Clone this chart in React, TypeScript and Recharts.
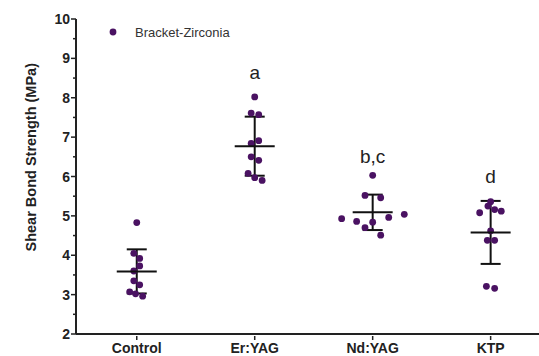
import React from "react";
import {
  ScatterChart,
  Scatter,
  XAxis,
  YAxis,
  ErrorBar,
} from "recharts";

const groups = ["Control", "Er:YAG", "Nd:YAG", "KTP"];
const controlValues = [4.83, 4.05, 3.92, 3.73, 3.6, 3.35, 3.25, 3.07, 3.02, 2.96];
const erYagValues = [8.02, 7.61, 7.57, 6.91, 6.84, 6.5, 6.41, 6.08, 5.97, 5.9];
const ndYagValues = [6.03, 5.52, 5.46, 5.04, 4.96, 4.93, 4.86, 4.84, 4.7, 4.51];
const ktpValues = [5.36, 5.25, 5.16, 5.12, 5.08, 4.62, 4.38, 4.38, 3.21, 3.16];
// horizontal scatter of the dots, in category units
const controlJitter = [0, -0.025, 0.025, 0.025, -0.025, -0.025, 0.025, -0.06, -0.01, 0.05];
const erYagJitter = [0, -0.03, 0.034, 0.034, -0.03, -0.03, 0.034, -0.056, 0, 0.063];
const ndYagJitter = [0, -0.065, 0.068, 0.268, 0.136, -0.263, -0.136, 0, -0.065, 0.068];
const ktpJitter = [0, -0.023, 0.034, 0.09, -0.093, 0, -0.028, 0.034, -0.036, 0.034];
const means = [3.59, 6.77, 5.09, 4.58];
const sds = [0.56, 0.75, 0.45, 0.8];
const letters = ["", "a", "b,c", "d"];
const letterY = [0, 8.63, 6.5, 6.0];
const yTicks = [2, 2.5, 3, 3.5, 4, 4.5, 5, 5.5, 6, 6.5, 7, 7.5, 8, 8.5, 9, 9.5, 10];

const allValues = [controlValues, erYagValues, ndYagValues, ktpValues];
const allJitter = [controlJitter, erYagJitter, ndYagJitter, ktpJitter];

const points = allValues.flatMap((vals, g) =>
  vals.map((v, i) => ({ x: g + allJitter[g][i], y: v }))
);
const summary = means.map((m, g) => ({ x: g, y: m, sd: sds[g] }));
const annotations = letters
  .map((l, g) => ({ x: g, y: letterY[g], letter: l }))
  .filter((a) => a.letter);

const dotColor = "#4a1262";
const ink = "#222";
const font = "'Liberation Sans', Arial, sans-serif";

const YTick = (props: any) => {
  const { x, y, payload } = props;
  const major = Number.isInteger(payload.value);
  return (
    <g>
      <line x1={x - (major ? 5 : 3)} x2={x} y1={y} y2={y} stroke={ink} strokeWidth={1.5} />
      {major && (
        <text x={x - 6} y={y} dy={5} textAnchor="end" fontSize={14} fontWeight="bold" fill={ink} fontFamily={font}>
          {payload.value}
        </text>
      )}
    </g>
  );
};

const XTick = (props: any) => {
  const { x, y, payload } = props;
  return (
    <g>
      <line x1={x} x2={x} y1={y} y2={y + 4} stroke={ink} strokeWidth={1.5} />
      <text x={x} y={y + 17} textAnchor="middle" fontSize={14} fontWeight="bold" fill={ink} fontFamily={font}>
        {groups[payload.value]}
      </text>
    </g>
  );
};

const Dot = (props: any) => <circle cx={props.cx} cy={props.cy} r={3.4} fill={dotColor} />;

const MeanLine = (props: any) => {
  const { cx, cy } = props;
  return <line x1={cx - 20} x2={cx + 20} y1={cy} y2={cy} stroke="#111" strokeWidth={2} />;
};

const LetterMark = (props: any) => {
  const { cx, cy, payload } = props;
  return (
    <text x={cx} y={cy} dy={6} textAnchor="middle" fontSize={19} fill={ink} fontFamily={font}>
      {payload.letter}
    </text>
  );
};

export default function App() {
  return (
    <div style={{ position: "absolute", left: 0, top: 0, width: 539, height: 356, background: "#fff" }}>
      <ScatterChart width={539} height={356} margin={{ top: 19, right: 0, bottom: 0, left: 0 }}>
        <XAxis
          type="number"
          dataKey="x"
          domain={[-0.515, 3.41]}
          ticks={[0, 1, 2, 3]}
          height={22}
          tickLine={false}
          tickSize={0}
          axisLine={{ stroke: ink, strokeWidth: 2 }}
          tick={<XTick />}
          allowDataOverflow
        />
        <YAxis
          type="number"
          dataKey="y"
          domain={[2, 10]}
          ticks={yTicks}
          width={76}
          tickLine={false}
          tickSize={0}
          tickMargin={0}
          axisLine={{ stroke: ink, strokeWidth: 2 }}
          tick={<YTick />}
          interval={0}
          label={{
            value: "Shear Bond Strength (MPa)",
            angle: -90,
            position: "insideLeft",
            dx: 26,
            dy: 75,
            style: { fontSize: 14.5, fontWeight: "bold", fill: ink, fontFamily: font },
          }}
        />
        <Scatter data={points} shape={<Dot />} isAnimationActive={false} />
        <Scatter data={summary} shape={<MeanLine />} isAnimationActive={false}>
          <ErrorBar dataKey="sd" direction="y" width={10} stroke="#111" strokeWidth={2} />
        </Scatter>
        <Scatter data={annotations} shape={<LetterMark />} isAnimationActive={false} />
      </ScatterChart>
      <div
        style={{
          position: "absolute",
          left: 109,
          top: 24,
          display: "flex",
          alignItems: "center",
          fontFamily: font,
          fontSize: 13,
          color: "#333",
          whiteSpace: "nowrap",
        }}
      >
        <svg width={8} height={16} style={{ marginRight: 18 }}>
          <circle cx={4} cy={8} r={3.4} fill={dotColor} />
        </svg>
        <span>Bracket-Zirconia</span>
      </div>
    </div>
  );
}
